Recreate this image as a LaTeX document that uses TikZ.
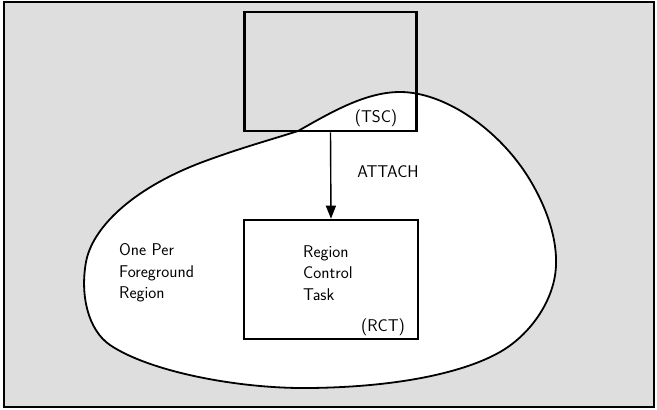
\documentclass[tikz,border=0pt]{standalone}
\usetikzlibrary{arrows.meta}
\tikzset{
  box/.style={draw, line width=2.6pt, inner sep=0pt},
  lbl/.style={font=\sffamily\fontsize{17}{21.5}\selectfont, inner sep=0pt, align=left},
  blobline/.style={draw, line width=1.8pt, fill=white},
  conn/.style={line width=1.4pt, -{Triangle[length=13pt,width=10pt]}},
}
\begin{document}
\begin{tikzpicture}[x=1pt,y=-1pt]
\useasboundingbox (0,0) rectangle (657,410);
\fill[black!13] (4,2) rectangle (654,407);
\draw[line width=1.6pt] (4,2) rectangle (654,407);
% blob
\path[blobline] (298,131)
  .. controls (330,113) and (365,92) .. (400,92)
  .. controls (445,92) and (500,130) .. (530,180)
  .. controls (548,210) and (557,240) .. (556,265)
  .. controls (555,300) and (530,335) .. (500,352)
  .. controls (465,372) and (400,387) .. (310,388)
  .. controls (240,389) and (150,372) .. (110,345)
  .. controls (88,330) and (80,295) .. (86,262)
  .. controls (92,229) and (130,190) .. (200,163)
  .. controls (240,148) and (270,140) .. (298,131) -- cycle;
% boxes
\node[box, minimum width=172pt, minimum height=119pt] (tsc) at (330.5,71.5) {};
\node[box, fill=white, minimum width=174pt, minimum height=119pt] (rct) at (331,279.5) {};
\node[lbl] (tsclbl) at (376,118) {(TSC)};
\node[lbl] (rctlbl) at (383,327) {(RCT)};
\node[lbl, anchor=west] (rcttext) at (303,273) {Region\\Control\\Task};
\node[lbl, anchor=west] (onePer) at (119,273) {One Per\\Foreground\\Region};
\node[lbl] (attach) at (388,172) {ATTACH};
\draw[conn] (tsc.south) -- (rct.north);
\end{tikzpicture}
\end{document}
